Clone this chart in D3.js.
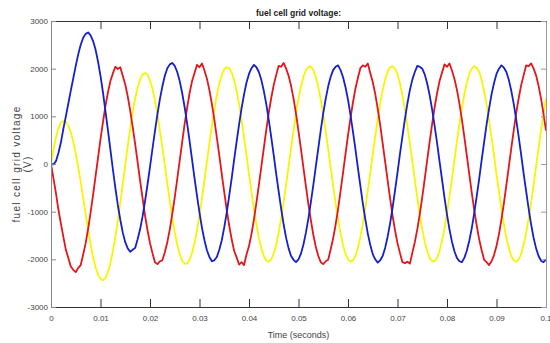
<!DOCTYPE html>
<html>
<head>
<meta charset="utf-8">
<script src="https://cdn.jsdelivr.net/npm/d3@7"></script>
<style>
  body { margin: 0; background: #fff; }
  svg { display: block; }
</style>
</head>
<body>
<svg id="chart" width="550" height="343"></svg>
<script>
// sample spacing of the three traces (seconds)
const timeStep = 0.0005;

const xTicks = [0, 0.01, 0.02, 0.03, 0.04, 0.05, 0.06, 0.07, 0.08, 0.09, 0.1];
const xTickLabels = ["0", "0.01", "0.02", "0.03", "0.04", "0.05", "0.06", "0.07", "0.08", "0.09", "0.1"];
const yTicks = [-3000, -2000, -1000, 0, 1000, 2000, 3000];
const yTickLabels = ["-3000", "-2000", "-1000", "0", "1000", "2000", "3000"];

// blue trace
const phaseBlue = [
  0, -10, 60, 230, 450, 740, 1000, 1270, 1540, 1800,
  2060, 2300, 2500, 2650, 2730, 2760, 2700, 2580, 2400, 2150,
  1850, 1500, 1110, 710, 300, -110, -500, -860, -1170, -1440,
  -1640, -1770, -1840, -1800, -1760, -1580, -1370, -1100, -780, -430,
  -60, 320, 690, 1040, 1360, 1630, 1850, 2010, 2090, 2120,
  2060, 1930, 1740, 1490, 1190, 850, 480, 90, -300, -670,
  -1020, -1340, -1600, -1810, -1950, -2040, -2020, -1950, -1800, -1600,
  -1330, -1020, -670, -300, 90, 470, 830, 1170, 1460, 1710,
  1890, 2010, 2080, 2030, 1930, 1760, 1530, 1250, 920, 560,
  180, -210, -580, -940, -1270, -1550, -1770, -1930, -2010, -2060,
  -2000, -1880, -1690, -1440, -1140, -800, -440, -50, 330, 710,
  1060, 1370, 1630, 1830, 1970, 2040, 2070, 1970, 1820, 1610,
  1350, 1030, 680, 310, -80, -460, -830, -1160, -1460, -1700,
  -1890, -2000, -2070, -2020, -1930, -1760, -1530, -1250, -920, -560,
  -180, 210, 580, 940, 1270, 1550, 1770, 1930, 2060, 2040,
  2000, 1880, 1690, 1440, 1140, 800, 440, 50, -330, -710,
  -1060, -1370, -1630, -1830, -1970, -2040, -2060, -1970, -1820, -1610,
  -1350, -1030, -680, -310, 80, 460, 830, 1160, 1460, 1700,
  1890, 2000, 2070, 2020, 1930, 1760, 1530, 1250, 920, 560,
  180, -210, -580, -940, -1270, -1550, -1770, -1930, -2030, -2060,
  -2000
];

// red trace
const phaseRed = [
  0, -300, -610, -960, -1250, -1530, -1800, -1970, -2150, -2220,
  -2270, -2180, -2120, -1900, -1660, -1360, -1020, -650, -260, 130,
  520, 880, 1220, 1500, 1740, 1900, 2040, 1990, 2030, 1850,
  1670, 1420, 1120, 780, 420, 40, -350, -720, -1080, -1390,
  -1660, -1870, -2060, -2100, -2040, -2020, -1850, -1640, -1370, -1050,
  -700, -320, 70, 460, 840, 1180, 1490, 1740, 1910, 2080,
  2030, 2110, 1960, 1790, 1550, 1260, 930, 560, 180, -210,
  -590, -960, -1290, -1580, -1820, -1960, -2110, -2060, -2120, -1900,
  -1720, -1470, -1160, -810, -440, -50, 340, 720, 1080, 1390,
  1660, 1870, 2060, 2040, 2120, 2000, 1850, 1640, 1370, 1050,
  690, 310, -80, -470, -840, -1180, -1490, -1740, -1930, -2060,
  -2100, -2040, -2010, -1790, -1560, -1270, -940, -570, -180, 210,
  600, 960, 1290, 1580, 1810, 2010, 2070, 2040, 2110, 1910,
  1720, 1470, 1160, 820, 440, 50, -340, -720, -1080, -1390,
  -1660, -1870, -2060, -2080, -2050, -2090, -1860, -1640, -1370, -1050,
  -700, -310, 80, 470, 840, 1190, 1490, 1740, 1920, 2090,
  2040, 2110, 1960, 1790, 1560, 1270, 940, 570, 180, -210,
  -600, -960, -1290, -1580, -1810, -2010, -2060, -2120, -2040, -1910,
  -1720, -1470, -1160, -820, -440, -50, 340, 720, 1080, 1390,
  1660, 1870, 2070, 2050, 2110, 2000, 1860, 1640, 1370, 1050,
  700
];

// yellow trace
const phaseYellow = [
  0, 300, 560, 760, 870, 900, 880, 800, 660, 470,
  220, -60, -380, -710, -1050, -1380, -1680, -1950, -2160, -2320,
  -2410, -2440, -2390, -2270, -2080, -1830, -1530, -1190, -810, -420,
  -20, 370, 740, 1080, 1370, 1600, 1780, 1880, 1910, 1870,
  1750, 1580, 1330, 1040, 700, 350, -30, -410, -780, -1130,
  -1430, -1690, -1890, -2030, -2090, -2090, -2010, -1860, -1650, -1390,
  -1070, -720, -340, 50, 430, 800, 1140, 1440, 1680, 1870,
  1990, 2030, 2010, 1920, 1760, 1530, 1250, 920, 560, 180,
  -210, -580, -940, -1270, -1550, -1770, -1930, -2030, -2050, -2000,
  -1880, -1690, -1440, -1140, -800, -440, -50, 330, 710, 1060,
  1370, 1630, 1830, 1970, 2040, 2040, 1970, 1820, 1610, 1350,
  1030, 680, 310, -80, -460, -830, -1160, -1460, -1700, -1890,
  -2000, -2050, -2020, -1930, -1760, -1530, -1250, -920, -560, -180,
  210, 580, 940, 1270, 1550, 1770, 1930, 2030, 2050, 2000,
  1880, 1690, 1440, 1140, 800, 440, 50, -330, -710, -1060,
  -1370, -1630, -1830, -1970, -2040, -2040, -1970, -1820, -1610, -1350,
  -1030, -680, -310, 80, 460, 830, 1160, 1460, 1700, 1890,
  2000, 2050, 2020, 1930, 1760, 1530, 1250, 920, 560, 180,
  -210, -580, -940, -1270, -1550, -1770, -1930, -2030, -2050, -2000,
  -1880, -1690, -1440, -1140, -800, -440, -50, 330, 710, 1060,
  1370
];

const svg = d3.select("#chart");
const margin = { top: 21, right: 4, bottom: 36, left: 51 };
const width = 550 - margin.left - margin.right;
const height = 343 - margin.top - margin.bottom;

const g = svg.append("g")
  .attr("transform", `translate(${margin.left},${margin.top})`);

const x = d3.scaleLinear().domain([0, 0.1]).range([0, width]);
const y = d3.scaleLinear().domain([-3000, 3000]).range([height, 0]);

const tickFont = '"Liberation Sans Narrow", "Liberation Sans", Arial, sans-serif';

g.append("clipPath").attr("id", "plot-clip")
  .append("rect").attr("width", width).attr("height", height);

// traces
const line = d3.line()
  .x((d, i) => x(i * timeStep))
  .y(d => y(d));

const traces = [
  { values: phaseYellow, color: "#f9f400" },
  { values: phaseRed, color: "#e3161b" },
  { values: phaseBlue, color: "#1420cc" }
];

g.append("g").attr("clip-path", "url(#plot-clip)")
  .selectAll("path")
  .data(traces)
  .enter().append("path")
  .attr("fill", "none")
  .attr("stroke", d => d.color)
  .attr("stroke-width", 1.8)
  .attr("stroke-linejoin", "round")
  .attr("d", d => line(d.values));

// axes, matlab style box with inward ticks
const styleAxis = (sel, color) => {
  sel.select(".domain").attr("stroke", color);
  sel.selectAll(".tick line").attr("stroke", color);
  sel.selectAll(".tick text")
    .attr("fill", "#444")
    .style("font-family", tickFont)
    .style("font-size", "8px");
};

const xAxisGroup = g.append("g")
  .attr("transform", `translate(0,${height})`)
  .call(d3.axisBottom(x).tickValues(xTicks).tickFormat((d, i) => xTickLabels[i])
    .tickSizeInner(-8).tickSizeOuter(0).tickPadding(8))
  .call(sel => styleAxis(sel, "#333"));

// last label sits on the window edge, nudge it in so it stays readable
xAxisGroup.selectAll(".tick text")
  .filter(d => d === 0.1)
  .attr("text-anchor", "end")
  .attr("dx", "5px");

g.append("g")
  .call(d3.axisTop(x).tickValues(xTicks).tickFormat("")
    .tickSizeInner(-8).tickSizeOuter(0))
  .call(sel => styleAxis(sel, "#333"));

g.append("g")
  .call(d3.axisLeft(y).tickValues(yTicks).tickFormat((d, i) => yTickLabels[i])
    .tickSizeInner(-5).tickSizeOuter(0).tickPadding(3))
  .call(sel => styleAxis(sel, "#888"));

g.append("g")
  .attr("transform", `translate(${width},0)`)
  .call(d3.axisRight(y).tickValues(yTicks).tickFormat("")
    .tickSizeInner(-5).tickSizeOuter(0))
  .call(sel => styleAxis(sel, "#999"));

// titles
svg.append("text")
  .attr("x", margin.left + width / 2)
  .attr("y", 16)
  .attr("text-anchor", "middle")
  .attr("fill", "#222")
  .style("font-family", tickFont)
  .style("font-weight", "bold")
  .style("font-size", "8.5px")
  .text("fuel cell grid voltage:");

svg.append("text")
  .attr("x", margin.left + width / 2)
  .attr("y", 338)
  .attr("text-anchor", "middle")
  .attr("fill", "#444")
  .style("font-family", tickFont)
  .style("font-size", "9px")
  .text("Time (seconds)");

const yLabel = svg.append("text")
  .attr("transform", `translate(20,${margin.top + height / 2}) rotate(-90)`)
  .attr("text-anchor", "middle")
  .attr("fill", "#444")
  .style("font-family", '"Liberation Sans", Arial, sans-serif')
  .style("font-size", "10px")
  .style("letter-spacing", "1.3px");

yLabel.append("tspan").attr("x", 0).attr("dy", 0).text("fuel cell grid voltage");
yLabel.append("tspan").attr("x", 0).attr("dy", 11).text("(V)");
</script>
</body>
</html>
